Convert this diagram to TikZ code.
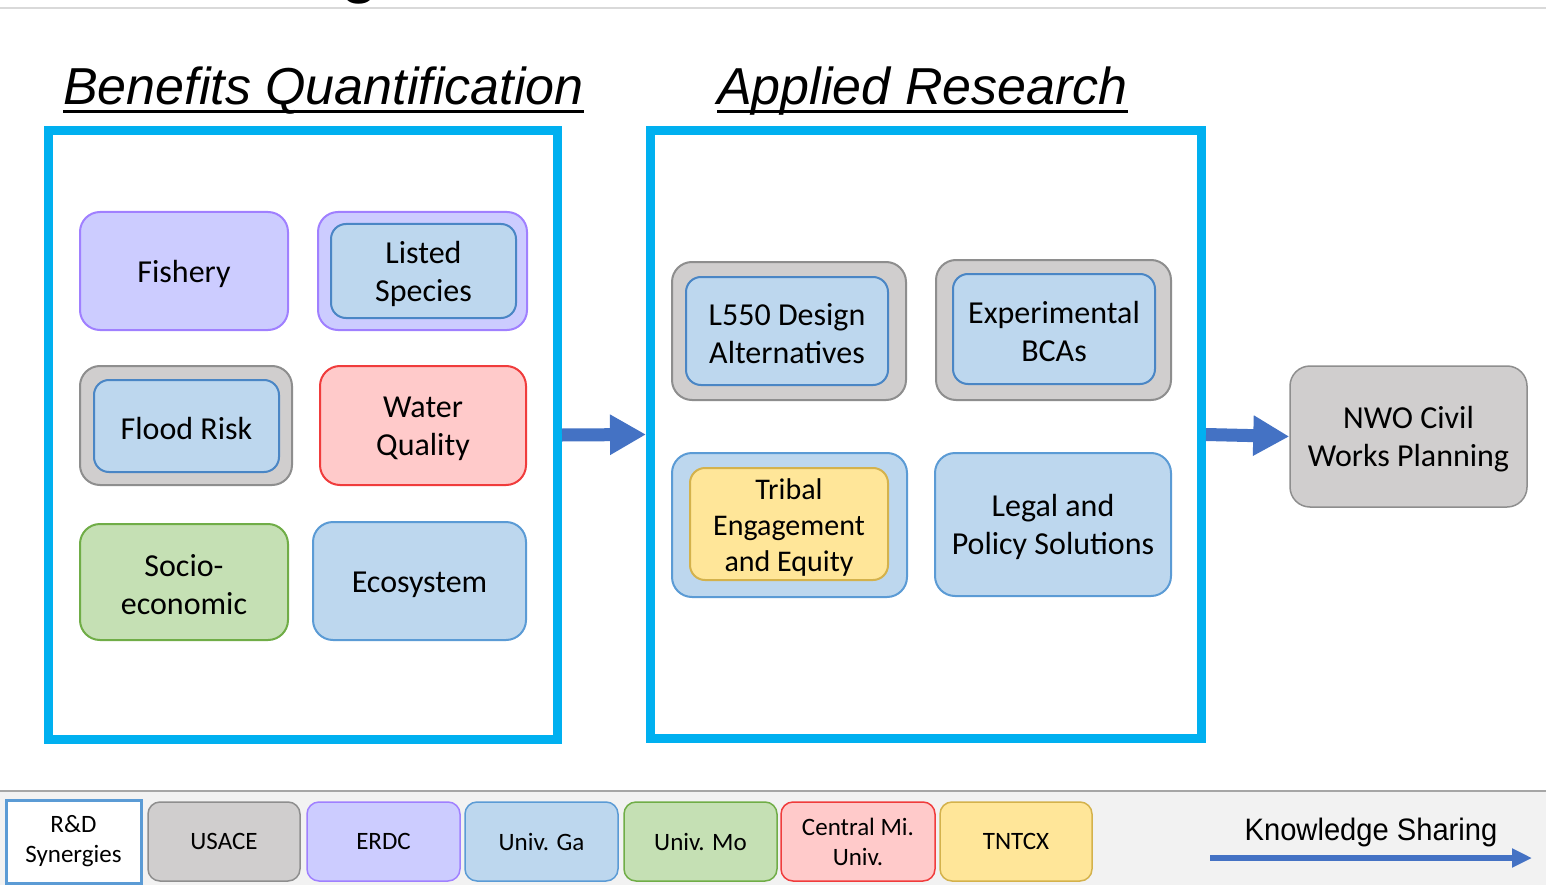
\documentclass[tikz,border=0pt]{standalone}
\usepackage{fontspec}
\setmainfont{Carlito}
\newfontfamily\arialf{Liberation Sans}
\usetikzlibrary{arrows.meta}
\newcommand\fstrut{\rule{0pt}{28pt}}
\definecolor{cyanB}{HTML}{00B0F0}
\definecolor{arrowB}{HTML}{4472C4}
\definecolor{grayF}{HTML}{D0CECE}
\definecolor{grayD}{HTML}{8E8E8E}
\definecolor{purpF}{HTML}{CCCCFF}
\definecolor{purpD}{HTML}{A080FF}
\definecolor{blueF}{HTML}{BDD7EE}
\definecolor{blueD}{HTML}{5B9BD5}
\definecolor{blueDi}{HTML}{4A86C5}
\definecolor{redF}{HTML}{FFCACA}
\definecolor{redD}{HTML}{F03C3C}
\definecolor{greenF}{HTML}{C5E0B4}
\definecolor{greenD}{HTML}{70AD47}
\definecolor{yelF}{HTML}{FFE699}
\definecolor{yelD}{HTML}{D4B24C}
\definecolor{bandF}{HTML}{F2F2F2}
\definecolor{bandL}{HTML}{A6A6A6}
\definecolor{topL}{HTML}{D9D9D9}
\begin{document}
\begin{tikzpicture}[x=1pt,y=-1pt,
  box/.style={rounded corners=20pt, line width=2pt, align=center, inner sep=0pt,
    font=\fontsize{32}{38}\selectfont},
  inbox/.style={box, rounded corners=15pt},
  purpbox/.style={box, fill=purpF, draw=purpD},
  graybox/.style={box, fill=grayF, draw=grayD},
  bluebox/.style={box, fill=blueF, draw=blueD},
  blueinner/.style={inbox, fill=blueF, draw=blueDi},
  redbox/.style={box, fill=redF, draw=redD},
  greenbox/.style={box, fill=greenF, draw=greenD},
  yelinner/.style={inbox, fill=yelF, draw=yelD},
  frame/.style={draw=cyanB, line width=9pt, inner sep=0pt},
  title/.style={inner sep=0pt, anchor=base west, font=\arialf\itshape\fontsize{52}{60}\selectfont},
  leg/.style={rounded corners=12pt, line width=1.5pt, align=center, inner sep=0pt,
    minimum height=79, font=\fontsize{25}{30}\selectfont},
  fat/.style={draw=arrowB, line width=13pt, -{Triangle[length=36pt,width=38pt]}},
]
\useasboundingbox (0,0) rectangle (1546,885);
\fill[white] (0,0) rectangle (1546,885);
% top fragment
\node[font=\arialf\bfseries\fontsize{60}{60}\selectfont, anchor=base, inner sep=0pt] (gfrag) at (360,-8) {g};
\draw[topL, line width=1.5pt] (0,8) -- (1546,8);
% bottom band
\fill[bandF] (0,791) rectangle (1546,885);
\draw[bandL, line width=1.5pt] (0,791) -- (1546,791);

% titles
\node[title] (bq) at (63,105) {Benefits Quantification};
\draw[line width=3pt] ([yshift=-7pt]bq.base west) -- ([yshift=-7pt]bq.base east);
\node[title] (ar) at (717,105) {Applied Research};
\draw[line width=3pt] ([yshift=-7pt]ar.base west) -- ([yshift=-7pt]ar.base east);

% frames
\node[frame, minimum width=509, minimum height=609] (bqbox) at (303,435) {};
\node[frame, minimum width=551, minimum height=608] (arbox) at (926,434.5) {};

% left nodes
\node[purpbox, minimum width=208, minimum height=118] (fish) at (184,271) {\fstrut Fishery};
\node[purpbox, minimum width=209, minimum height=118] (listo) at (422.5,271) {};
\node[blueinner, minimum width=185, minimum height=94] (list) at (423.5,271) {\fstrut Listed\\Species};
\node[graybox, minimum width=212, minimum height=119] (floodo) at (186,425.5) {};
\node[blueinner, minimum width=185, minimum height=92] (flood) at (186.5,426) {\fstrut Flood Risk};
\node[redbox, minimum width=206, minimum height=119] (water) at (423,425.5) {\fstrut Water\\Quality};
\node[greenbox, minimum width=208, minimum height=116] (socio) at (184,582) {\fstrut Socio-\\economic};
\node[bluebox, minimum width=213, minimum height=118] (eco) at (419.5,581) {\fstrut Ecosystem};

% right nodes
\node[graybox, minimum width=234, minimum height=138] (l550o) at (789,331) {};
\node[blueinner, minimum width=202, minimum height=108] (l550) at (787,331) {\fstrut L550 Design\\Alternatives};
\node[graybox, minimum width=235, minimum height=140] (expo) at (1053.5,330) {};
\node[blueinner, minimum width=202, minimum height=110] (exp) at (1054,329) {\fstrut Experimental\\BCAs};
\node[bluebox, minimum width=235, minimum height=144] (tribo) at (789.5,525) {};
\node[yelinner, minimum width=198, minimum height=112, font=\fontsize{30}{36}\selectfont] (trib) at (789,524) {\fstrut Tribal\\Engagement\\and Equity};
\node[bluebox, minimum width=236, minimum height=143] (legal) at (1053,524.5) {\fstrut Legal and\\Policy Solutions};

% NWO
\node[graybox, line width=1.5pt, minimum width=237, minimum height=141] (nwo) at (1408.5,436.5) {\fstrut NWO Civil\\Works Planning};

% arrows
\draw[fat] (bqbox.east) -- (arbox.west);
\draw[fat] (arbox.east) -- (nwo.west);

% legend
\node[draw=blueD, fill=white, line width=3pt, minimum width=135, minimum height=83, align=center, inner sep=0pt,
  font=\fontsize{25}{30}\selectfont] (rd) at (73.5,841.5) {R\&D\\Synergies};
\node[leg, fill=grayF, draw=grayD, minimum width=152] (usace) at (224,841.5) {USACE};
\node[leg, fill=purpF, draw=purpD, minimum width=153] (erdc) at (383.5,841.5) {ERDC};
\node[leg, fill=blueF, draw=blueD, minimum width=153] (ga) at (541.5,841.5) {Univ. Ga};
\node[leg, fill=greenF, draw=greenD, minimum width=153] (mo) at (700.5,841.5) {Univ. Mo};
\node[leg, fill=redF, draw=redD, minimum width=154] (cmu) at (858,841.5) {Central Mi.\\Univ.};
\node[leg, fill=yelF, draw=yelD, minimum width=152] (tntcx) at (1016,841.5) {TNTCX};

\node[inner sep=0pt, font=\arialf\fontsize{31}{34}\selectfont] (ks) at (1371,832) {\scalebox{0.94}[1]{Knowledge Sharing}};
\coordinate (ks1) at (1210,858);
\coordinate (ks2) at (1532,858);
\draw[arrowB, line width=6pt, -{Triangle[length=20pt,width=18pt]}] (ks1) -- (ks2);
\end{tikzpicture}
\end{document}
